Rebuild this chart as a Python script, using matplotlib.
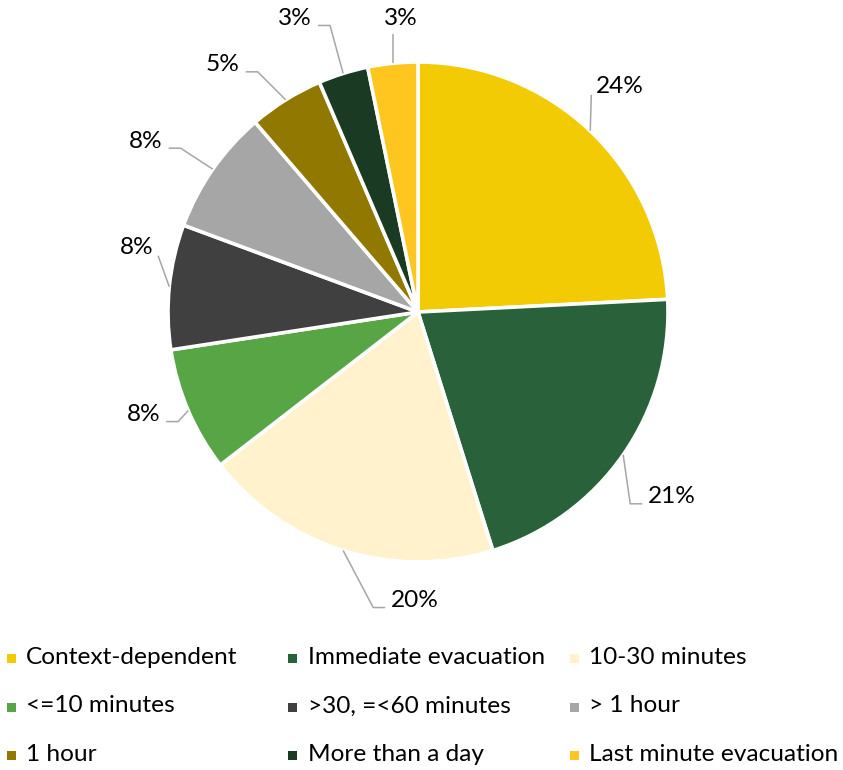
import matplotlib
matplotlib.use("Agg")
import matplotlib.pyplot as plt
from matplotlib.patches import Rectangle
import numpy as np

# ---- data ----
categories = ["Context-dependent", "Immediate evacuation", "10-30 minutes",
              "<=10 minutes", ">30, =<60 minutes", "> 1 hour",
              "1 hour", "More than a day", "Last minute evacuation"]
counts = [15, 13, 12, 5, 5, 5, 3, 2, 2]
pct_labels = ["24%", "21%", "20%", "8%", "8%", "8%", "5%", "3%", "3%"]
colors = ["#F2CB05", "#29623A", "#FFF2CC", "#58A545", "#404040",
          "#A6A6A6", "#917800", "#1B3A24", "#FFC61F"]

# ---- layout (pixels) ----
W, H = 843, 770
CX, CY, R = 418, 312, 250
# label centre offsets from the wedge edge anchor (image px, y down)
label_off = [(30, -44), (49, 42), (72, 50), (-45, 4), (-33, -39),
             (-67, -28), (-63, -35), (-48, -55), (8, -45)]
leader_style = ["d", "h", "h", "h", "d", "h", "h", "h", "v"]

FONT = ["Lato", "DejaVu Sans"]
plt.rcParams["font.family"] = FONT

fig = plt.figure(figsize=(W / 100, H / 100), dpi=100)
ax = fig.add_axes([0, 0, 1, 1])

wedges, _ = ax.pie(counts, colors=colors, startangle=90, counterclock=False,
                   radius=R, center=(CX, H - CY),
                   wedgeprops=dict(edgecolor="white", linewidth=2.6))
ax.set_xlim(0, W)
ax.set_ylim(0, H)
ax.set_aspect("equal")
ax.axis("off")

# fit font size to legend text width (~210 px for "Context-dependent")
renderer = fig.canvas.get_renderer()
probe = fig.text(0, 0, "Context-dependent", fontsize=18)
wpx = probe.get_window_extent(renderer).width
probe.remove()
FS = 18 * 210.0 / wpx


def d(x, y):
    return (x, H - y)


line_kw = dict(color="#A6A6A6", lw=1.1, solid_capstyle="butt", zorder=1)

for i, wdg in enumerate(wedges):
    mid = np.deg2rad((wdg.theta1 + wdg.theta2) / 2)
    ex = CX + R * np.cos(mid)
    ey = CY - R * np.sin(mid)
    tx = ex + label_off[i][0]
    ty = ey + label_off[i][1]
    t = ax.text(*d(tx, ty), pct_labels[i], fontsize=FS, color="#000000",
                ha="center", va="center")
    hw = t.get_window_extent(renderer).width / 2
    side = 1 if tx > ex else -1
    st = leader_style[i]
    if st == "v":
        pts = [(ex, ey), (ex, ty + 16)]
    elif st == "d":
        endx = tx - side * (hw + 5)
        pts = [(ex, ey), (endx, ty + 8)]
    else:
        endx = tx - side * (hw + 6)
        elbx = endx - side * 12
        pts = [(ex, ey), (elbx, ty + 7), (endx, ty + 7)]
    xs = [p[0] for p in pts]
    ys = [H - p[1] for p in pts]
    ax.plot(xs, ys, **line_kw)

# legend
sq_x = [7, 288, 570]
txt_x = [26, 308, 589]
rows_y = [658.5, 707, 755.5]
for i, cat in enumerate(categories):
    r, c = divmod(i, 3)
    y = rows_y[r]
    ax.add_patch(Rectangle(d(sq_x[c], y + 4.5), 8.5, 9, facecolor=colors[i],
                           edgecolor="none"))
    ax.text(*d(txt_x[c], y - 1), cat, fontsize=FS, color="#000000",
            ha="left", va="center")

fig.savefig("out.png", dpi=100)
